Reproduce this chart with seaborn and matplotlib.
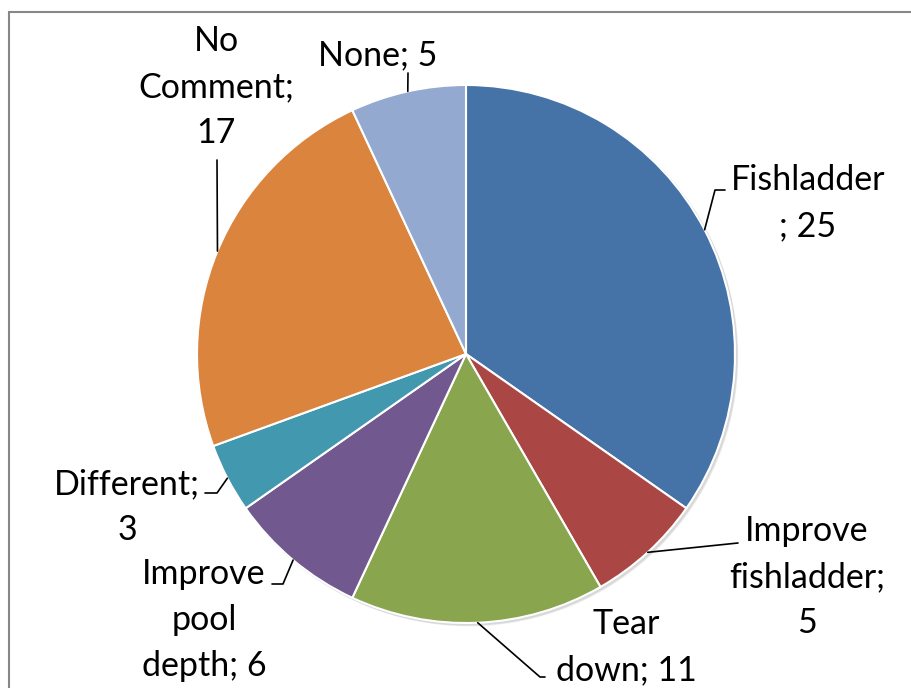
import matplotlib
matplotlib.use("Agg")
import matplotlib.pyplot as plt
import seaborn as sns
import numpy as np
from matplotlib.patches import Rectangle, Circle

sns.set_theme(style="white")
plt.rcParams["font.family"] = ["Lato", "DejaVu Sans"]

# Survey responses
categories = ["Fishladder", "Improve fishladder", "Tear down", "Improve pool depth",
              "Different", "No Comment", "None"]
counts = [25, 5, 11, 6, 3, 17, 5]
label_texts = ["Fishladder\n; 25", "Improve\nfishladder;\n5", "Tear\ndown; 11",
               "Improve\npool\ndepth; 6", "Different;\n3", "No\nComment;\n17", "None; 5"]

colors = sns.color_palette(["#4572A7", "#AA4643", "#89A54E", "#71588F",
                            "#4198AF", "#DB843D", "#93A9CF"])

W, H = 912, 688
fig = plt.figure(figsize=(W / 100, H / 100), dpi=100)
ax = fig.add_axes([0, 0, 1, 1])

def Y(y):
    return H - y

cx, cy, R = 466, Y(354), 269

# outer chart frame
ax.add_patch(Rectangle((9, Y(700)), W + 20, 700 - 12, fill=False,
                       edgecolor="#878787", lw=1.5, zorder=0))

# soft drop shadow behind the pie
for k, a in enumerate([0.05, 0.05, 0.06]):
    ax.add_patch(Circle((cx + 1.5 + k * 0.7, cy - 1.5 - k * 0.7), R + 1 - k * 0.3,
                        facecolor="black", alpha=a, lw=0, zorder=1))

wedges, _ = ax.pie(counts, colors=colors, startangle=90, counterclock=False,
                   center=(cx, cy), radius=R, frame=True,
                   wedgeprops=dict(edgecolor="white", linewidth=1.5, zorder=2))
ax.set_xlim(0, W)
ax.set_ylim(0, H)
ax.axis("off")

# label centres and leader-line elbows (pixel layout)
label_pos = [(808, 203), (807, 577), (626, 647), (204, 620), (127, 507), (216, 87), (378, 55)]
elbows = [[(725, 190), (715, 190)],
          [(738, 543)],
          [(545, 677), (540, 677)],
          [(272, 584), (283, 584)],
          [(205, 493), (217, 493)],
          [(217, 160)],
          [(408, 73)]]

total = sum(counts)
cum = 0
for i, v in enumerate(counts):
    mid = 90 - (cum + v / 2) / total * 360
    cum += v
    ex = cx + R * np.cos(np.radians(mid))
    ey = cy + R * np.sin(np.radians(mid))
    pts = [(x, Y(y)) for x, y in elbows[i]] + [(ex, ey)]
    ax.plot([p[0] for p in pts], [p[1] for p in pts], color="black", lw=1.2, zorder=3)
    lx, ly = label_pos[i]
    ax.text(lx, Y(ly), label_texts[i], ha="center", va="center", fontsize=24.5,
            color="black", linespacing=1.55, zorder=4)

fig.savefig("out.png", dpi=100, facecolor="white")
